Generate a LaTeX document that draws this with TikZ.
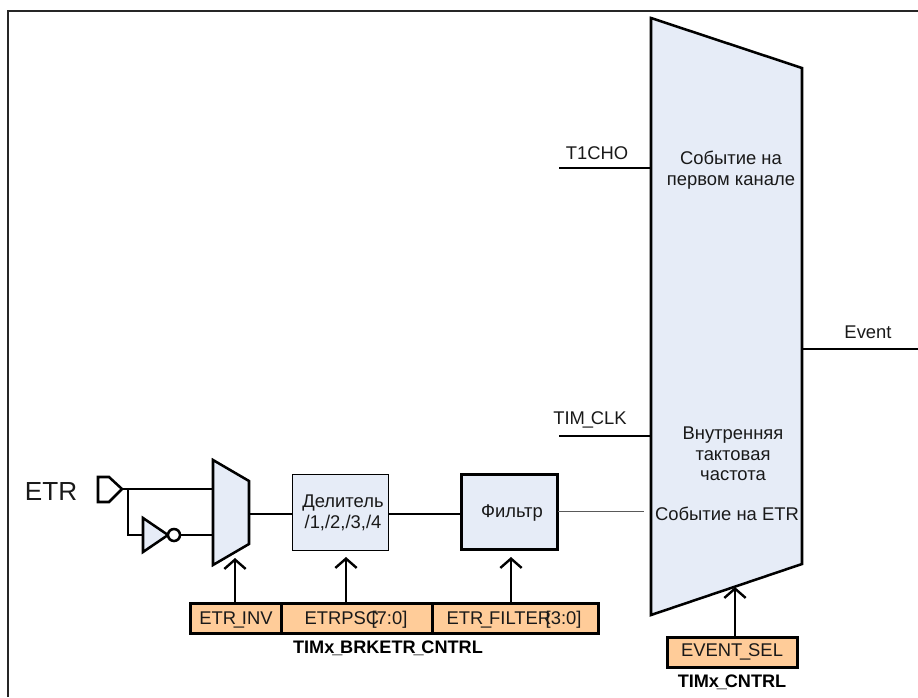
\documentclass[tikz,border=0pt]{standalone}
\usepackage{fontspec}
\setmainfont{Liberation Sans}
\usetikzlibrary{arrows.meta}
\definecolor{fillblue}{HTML}{E6ECF7}
\definecolor{fillorange}{HTML}{FFCC99}
\newcommand{\us}{\kern-0.12em\_\kern-0.12em}
\tikzset{
 x=0.75pt,y=-0.75pt,
 thick line/.style={line width=1.9pt,black,line join=miter},
 wire/.style={line width=1.9pt,black},
 ctrl/.style={line width=1.9pt,black,-{Straight Barb[length=7pt,width=16pt,line width=1.8pt]}},
 reg/.style={draw=black,line width=1.9pt,fill=fillorange,minimum height=22.5pt,inner sep=0pt,anchor=north west},
 lbl/.style={inner sep=0pt,font=\fontsize{13.8pt}{15.3pt}\selectfont,align=center,text=black!90},
 bold lbl/.style={inner sep=0pt,font=\fontsize{13.6pt}{15pt}\selectfont\bfseries,text=black},
}
\begin{document}
\begin{tikzpicture}
\useasboundingbox (0,0) rectangle (918,697);
% frame
\coordinate (fa) at (8,697); \coordinate (fb) at (8,11); \coordinate (fc) at (918,11);
\draw[line width=0.9pt,black!85] (fa) -- (fb) -- (fc);
% main mux
\coordinate (m1) at (651,18); \coordinate (m2) at (802,68); \coordinate (m3) at (802,564); \coordinate (m4) at (651,615);
\draw[thick line,fill=fillblue] (m1) -- (m2) -- (m3) -- (m4) -- cycle;
% small mux
\coordinate (s1) at (213,460); \coordinate (s2) at (249,481); \coordinate (s3) at (249,544); \coordinate (s4) at (213,565);
\draw[thick line,fill=fillblue] (s1) -- (s2) -- (s3) -- (s4) -- cycle;
% port
\node[lbl,font=\fontsize{19.6pt}{20pt}\selectfont] (etr) at (51,492) {ETR};
\coordinate (p1) at (98,477); \coordinate (p2) at (109,477); \coordinate (p3) at (122,489); \coordinate (p4) at (109,502); \coordinate (p5) at (98,502);
\draw[thick line] (p1) -- (p2) -- (p3) -- (p4) -- (p5) -- cycle;
% inverter
\coordinate (i1) at (143,518); \coordinate (i2) at (168,535); \coordinate (i3) at (143,552);
\draw[thick line,fill=fillblue] (i1) -- (i2) -- (i3) -- cycle;
\node[circle,draw=black,line width=1.9pt,fill=white,minimum size=9pt,inner sep=0pt] (bub) at (174,535) {};
% wires
\coordinate (sin1) at (213,489); \coordinate (sin2) at (213,535); \coordinate (junc) at (128,489); \coordinate (iin) at (143,535);
\draw[wire] (p3) -- (sin1);
\draw[wire] (junc) |- (iin);
\draw[wire] (bub.east) -- (sin2);
% divider and filter
\node[draw=black,line width=0.9pt,fill=fillblue,minimum width=72.4pt,minimum height=56.7pt,inner sep=0pt] (div) at (340.5,512.5) {};
\node[lbl] (divt) at (343,513) {Делитель\\/1,/2,/3,/4};
\node[draw=black,line width=2.1pt,fill=fillblue,minimum width=72.5pt,minimum height=56.7pt,inner sep=0pt] (fil) at (509.5,512) {};
\node[lbl] (filt) at (512,513) {Фильтр};
\coordinate (so) at (249,514); \coordinate (di) at (292,514); \coordinate (dout) at (388,514); \coordinate (fi) at (461,514);
\draw[wire] (so) -- (di);
\draw[wire] (dout) -- (fi);
\coordinate (fo) at (558,511.5); \coordinate (etrin) at (644,511.5);
\draw[line width=0.7pt,black!65] (fo) -- (etrin);
% registers
\node[reg,minimum width=68.2pt] (r1) at (189,602) {};
\node[lbl] (r1t) at (236,619.5) {ETR\us INV};
\node[reg,minimum width=113.6pt] (r2) at (280,602) {};
\node[lbl] (r2t) at (356,619.5) {ETRPSC\kern-0.42em[7:0]};
\node[reg,minimum width=124.2pt] (r3) at (431.5,602) {};
\node[lbl] (r3t) at (514,619.5) {ETR\us FILTER\kern-0.3em[3:0]};
\node[bold lbl] (rl) at (388,648) {TIMx\us BRKETR\us CNTRL};
\node[reg,minimum width=97.5pt] (r4) at (666,636) {};
\node[lbl] (r4t) at (732,651.5) {EVENT\us SEL};
\node[bold lbl] (r4l) at (732,682) {TIMx\us CNTRL};
% control arrows
\coordinate (a1a) at (235,602); \coordinate (a1b) at (235,558);
\coordinate (a2a) at (346,602); \coordinate (a2b) at (346,557);
\coordinate (a3a) at (511,602); \coordinate (a3b) at (511,557);
\coordinate (a4a) at (735,636); \coordinate (a4b) at (735,587);
\draw[ctrl] (a1a) -- (a1b);
\draw[ctrl] (a2a) -- (a2b);
\draw[ctrl] (a3a) -- (a3b);
\draw[ctrl] (a4a) -- (a4b);
% inputs
\coordinate (t1a) at (559,168); \coordinate (t1b) at (651,168);
\coordinate (t2a) at (559,436); \coordinate (t2b) at (651,436);
\coordinate (eva) at (802,349); \coordinate (evb) at (918,349);
\draw[wire] (t1a) -- (t1b);
\draw[wire] (t2a) -- (t2b);
\draw[wire] (eva) -- (evb);
\node[lbl] (t1) at (597,153) {T1CHO};
\node[lbl] (t2) at (590,420) {TIM\us CLK};
\node[lbl] (ev) at (868,332) {Event};
% mux texts
\node[lbl] (m1t) at (731,170) {Событие на\\первом канале};
\node[lbl] (m2t) at (733,454) {Внутренняя\\тактовая\\частота};
\node[lbl] (m3t) at (727,514) {Событие на ETR};
\end{tikzpicture}
\end{document}
